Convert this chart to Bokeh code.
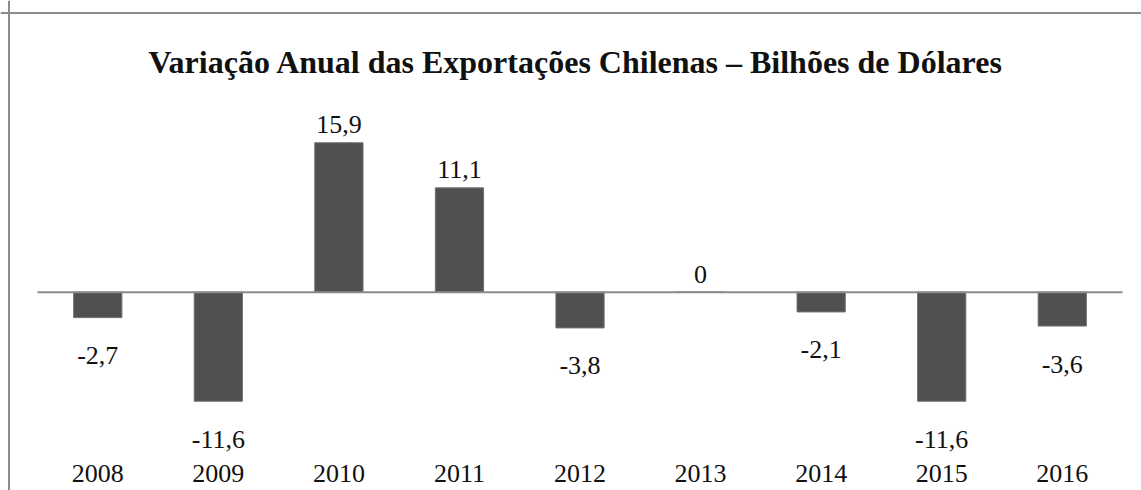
from bokeh.plotting import figure
from bokeh.models import Range1d, ColumnDataSource, Span
from bokeh.embed import file_html
from bokeh.resources import INLINE
from bokeh.core.properties import value

# ---- data ----
years = ["2008", "2009", "2010", "2011", "2012", "2013", "2014", "2015", "2016"]
values = [-2.7, -11.6, 15.9, 11.1, -3.8, 0.0, -2.1, -11.6, -3.6]
title_text = "Variação Anual das Exportações Chilenas – Bilhões de Dólares"

# ---- layout constants (pixels) ----
W, H = 1141, 490
PX_X = 120.56      # px per category
PX_Y = 9.40        # px per unit
ZERO_X = 37        # canvas px to first category start
ZERO_Y = 291.7     # canvas px from top to zero line

n = len(years)
x_start = -ZERO_X / PX_X
x_end = x_start + W / PX_X
y_end = ZERO_Y / PX_Y
y_start = y_end - H / PX_Y

FONT = "Liberation Serif"

p = figure(width=W, height=H, x_range=Range1d(x_start, x_end),
           y_range=Range1d(y_start, y_end), output_backend="svg",
           toolbar_location=None, min_border=0,
           min_border_left=0, min_border_right=0, min_border_top=0, min_border_bottom=0)
p.axis.visible = False
p.grid.visible = False
p.outline_line_color = None
p.background_fill_color = "white"
p.border_fill_color = "white"

xs = [i + 0.5 for i in range(n)]
fmt = [("0" if v == 0 else f"{v:.1f}".replace(".", ",")) for v in values]
src = ColumnDataSource(dict(
    x=xs, v=values, label=fmt, year=years,
    off=[-18 if v >= 0 else 38 for v in values],
    yb=[-19.32] * n,
))

p.vbar(x="x", top="v", bottom=0, width=0.40, source=src,
       fill_color="#505050", line_color="#707070", line_width=1)

p.segment(x0=[0], y0=[0], x1=[n], y1=[0], line_color="#8a8a8a", line_width=2)

p.text(x="x", y="v", text="label", y_offset="off", source=src,
       text_align="center", text_baseline="alphabetic",
       text_font=value(FONT), text_font_size="26px", text_color="#111111")

p.text(x="x", y="yb", text="year", source=src,
       text_align="center", text_baseline="alphabetic",
       text_font=value(FONT), text_font_size="26px", text_color="#111111")

p.text(x=[n / 2], y=[24.47], text=[title_text], x_offset=-4,
       text_align="center", text_baseline="alphabetic",
       text_font=value(FONT), text_font_size="32px", text_font_style="bold",
       text_color="#111111")

# chart border (left and top edges visible in the crop)
p.add_layout(Span(location=x_start + 8.5 / PX_X, dimension="height",
                  line_color="#8c8c8c", line_width=2))
p.add_layout(Span(location=y_end - 12.5 / PX_Y, dimension="width",
                  line_color="#8c8c8c", line_width=2))

open("out.html", "w").write(file_html(p, INLINE))
